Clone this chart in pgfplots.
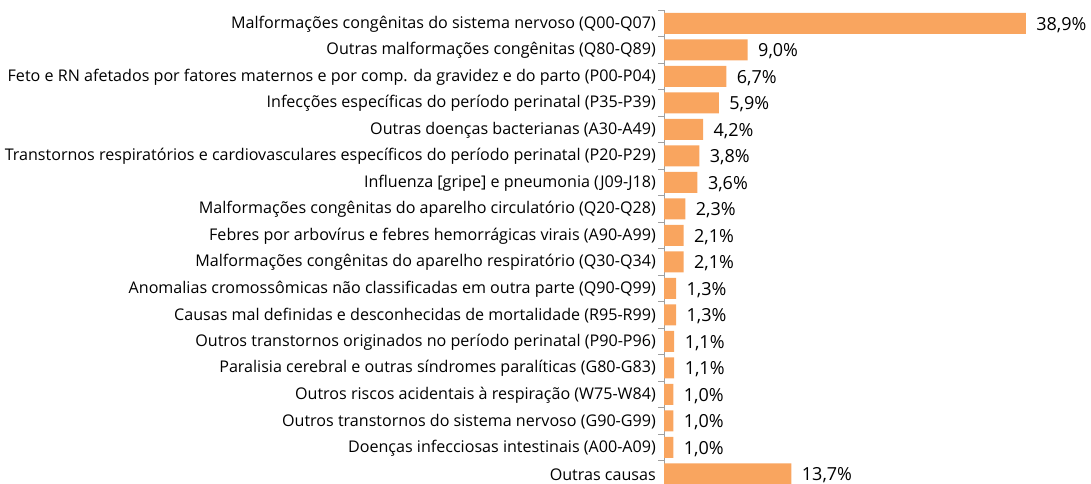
\documentclass[border=0pt]{standalone}
\usepackage{pgfplots}
\pgfplotsset{compat=1.18}
\usepackage{fontspec}
\setmainfont{Open Sans}
\definecolor{barorange}{HTML}{F9A55F}
\definecolor{axgray}{HTML}{A0A0A0}
\begin{document}
\begin{tikzpicture}[x=1pt,y=1pt]
\useasboundingbox (0,-483) rectangle (1091,0);
\begin{axis}[
  at={(664pt,-10pt)}, anchor=north west,
  scale only axis,
  width=418.5pt, height=477pt,
  xbar, bar width=21pt, bar shift=0pt,
  xmin=0, xmax=45,
  ymin=-0.5, ymax=17.5,
  y dir=reverse,
  axis x line=none,
  axis y line*=left,
  y axis line style={axgray, line width=0.8pt, -},
  ytick={0,...,17},
  minor ytick={-0.5,0.5,...,17.5},
  major tick length=0pt,
  minor tick length=6pt,
  tick align=outside,
  minor tick style={axgray, line width=0.8pt},
  /pgf/number format/assume math mode=true,
  yticklabel style={font=\fontsize{16.1}{18}\selectfont, text=black, inner sep=0pt, xshift=-8pt, yshift=-1pt},
  yticklabels={
    {Malformações congênitas do sistema nervoso (Q00-Q07)},
    {Outras malformações congênitas (Q80-Q89)},
    {Feto e RN afetados por fatores maternos e por comp. da gravidez e do parto (P00-P04)},
    {Infecções específicas do período perinatal (P35-P39)},
    {Outras doenças bacterianas (A30-A49)},
    {Transtornos respiratórios e cardiovasculares específicos do período perinatal (P20-P29)},
    {Influenza [gripe] e pneumonia (J09-J18)},
    {Malformações congênitas do aparelho circulatório (Q20-Q28)},
    {Febres por arbovírus e febres hemorrágicas virais (A90-A99)},
    {Malformações congênitas do aparelho respiratório (Q30-Q34)},
    {Anomalias cromossômicas não classificadas em outra parte (Q90-Q99)},
    {Causas mal definidas e desconhecidas de mortalidade (R95-R99)},
    {Outros transtornos originados no período perinatal (P90-P96)},
    {Paralisia cerebral e outras síndromes paralíticas (G80-G83)},
    {Outros riscos acidentais à respiração (W75-W84)},
    {Outros transtornos do sistema nervoso (G90-G99)},
    {Doenças infecciosas intestinais (A00-A09)},
    {Outras causas}
  },
  nodes near coords={\pgfmathprintnumber[fixed,fixed zerofill,precision=1,use comma,assume math mode=true]{\pgfplotspointmeta}\%},
  point meta=x,
  nodes near coords style={font=\fontsize{18}{20}\selectfont, text=black, anchor=west, xshift=7pt, yshift=-1.5pt},
  clip=false,
]
\addplot[fill=barorange, draw=none] coordinates {
  (38.9,0) (9.0,1) (6.7,2) (5.9,3) (4.2,4) (3.8,5) (3.6,6) (2.3,7) (2.1,8)
  (2.1,9) (1.3,10) (1.3,11) (1.1,12) (1.1,13) (1.0,14) (1.0,15) (1.0,16) (13.7,17)
};
\end{axis}
\end{tikzpicture}
\end{document}
